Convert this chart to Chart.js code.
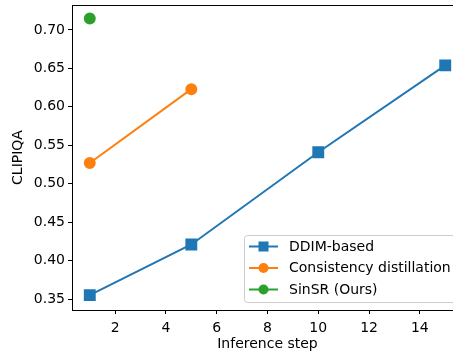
<!DOCTYPE html>
<html>
<head>
<meta charset="utf-8">
<script src="https://cdn.jsdelivr.net/npm/chart.js@4.4.0/dist/chart.umd.min.js"></script>
<style>
  html, body { margin: 0; padding: 0; background: #fff; overflow: hidden; }
  #wrap { width: 453px; height: 353px; overflow: hidden; }
</style>
</head>
<body>
<!-- a figura original foi recortada à direita: o canvas é mais largo que a janela -->
<div id="wrap"><canvas id="grafico" width="463" height="353"></canvas></div>
<script>
const passos = [1, 5, 10, 15];
const ddim = [0.355, 0.421, 0.541, 0.654];
const consistencia = [0.527, 0.623];
const sinsr = [0.715];
const ticksX = [2, 4, 6, 8, 10, 12, 14];
const ticksY = [0.35, 0.40, 0.45, 0.50, 0.55, 0.60, 0.65, 0.70];
const nomes = ["DDIM-based", "Consistency distillation", "SinSR (Ours)"];

const fonte = "'DejaVu Sans', sans-serif";

function pontos(valores) {
    return valores.map((v, i) => ({ x: passos[i], y: v }));
}

// caixa da legenda no canto inferior direito, estilo matplotlib
const legendaPlugin = {
    id: 'legendaInterna',
    afterDraw(chart) {
        const ctx = chart.ctx;
        const area = chart.chartArea;
        ctx.save();
        // bordas de cima e da direita
        ctx.strokeStyle = '#000';
        ctx.lineWidth = 1;
        ctx.beginPath();
        ctx.moveTo(area.left, area.top + 0.5);
        ctx.lineTo(area.right - 0.5, area.top + 0.5);
        ctx.lineTo(area.right - 0.5, area.bottom);
        ctx.stroke();

        const x0 = 244.5, y0 = 235.5, w = 214, h = 67;
        ctx.fillStyle = 'rgba(255,255,255,0.85)';
        ctx.strokeStyle = '#cccccc';
        ctx.beginPath();
        ctx.roundRect(x0, y0, w, h, 3);
        ctx.fill();
        ctx.stroke();

        ctx.font = "14px " + fonte;
        ctx.textBaseline = 'middle';
        chart.data.datasets.forEach((ds, i) => {
            const y = 246.5 + i * 21.5;
            ctx.strokeStyle = ds.borderColor;
            ctx.lineWidth = 2;
            ctx.beginPath();
            ctx.moveTo(249, y);
            ctx.lineTo(278, y);
            ctx.stroke();
            ctx.fillStyle = ds.backgroundColor;
            if (ds.pointStyle === 'rect') {
                ctx.fillRect(263.5 - 5, y - 5, 10, 10);
            } else {
                ctx.beginPath();
                ctx.arc(263.5, y, 5, 0, Math.PI * 2);
                ctx.fill();
            }
            ctx.fillStyle = '#000';
            ctx.fillText(ds.label, 289, y + 0.5);
        });
        ctx.restore();
    }
};

new Chart(document.getElementById('grafico'), {
    type: 'line',
    data: {
        datasets: [
            { label: nomes[0], data: pontos(ddim), borderColor: '#1f77b4', backgroundColor: '#1f77b4', pointStyle: 'rect', pointRadius: 7, borderWidth: 2 },
            { label: nomes[1], data: pontos(consistencia), borderColor: '#ff7f0e', backgroundColor: '#ff7f0e', pointStyle: 'circle', pointRadius: 5, borderWidth: 2 },
            { label: nomes[2], data: pontos(sinsr), borderColor: '#2ca02c', backgroundColor: '#2ca02c', pointStyle: 'circle', pointRadius: 5, borderWidth: 2 }
        ]
    },
    options: {
        responsive: false,
        animation: false,
        layout: { autoPadding: false, padding: { top: 5, left: 0, right: 0, bottom: 0 } },
        plugins: { legend: { display: false }, tooltip: { enabled: false } },
        elements: { line: { tension: 0 }, point: { borderWidth: 0 } },
        scales: {
            x: {
                type: 'linear',
                min: 0.3,
                max: 15.7,
                afterBuildTicks: s => { s.ticks = ticksX.map(v => ({ value: v })); },
                afterFit: s => { s.height = 43; s.paddingLeft = 0; s.paddingRight = 0; },
                grid: { drawOnChartArea: false, drawTicks: true, tickLength: 4, color: '#000' },
                border: { color: '#000', width: 1 },
                ticks: { color: '#000', font: { family: fonte, size: 14 }, padding: 6, maxRotation: 0 },
                title: { display: true, text: 'Inference step', color: '#000', font: { family: fonte, size: 14 }, padding: { top: 0, bottom: 0 } }
            },
            y: {
                min: 0.3357,
                max: 0.7325,
                afterBuildTicks: s => { s.ticks = ticksY.map(v => ({ value: v })); },
                afterFit: s => { s.width = 72; s.paddingTop = 0; s.paddingBottom = 0; },
                grid: { drawOnChartArea: false, drawTicks: true, tickLength: 4, color: '#000' },
                border: { color: '#000', width: 1 },
                ticks: { color: '#000', font: { family: fonte, size: 14 }, padding: 3, callback: v => v.toFixed(2) },
                title: { display: true, text: 'CLIPIQA', color: '#000', font: { family: fonte, size: 14 }, padding: { top: 10, bottom: 0 } }
            }
        }
    },
    plugins: [legendaPlugin]
});
</script>
</body>
</html>
